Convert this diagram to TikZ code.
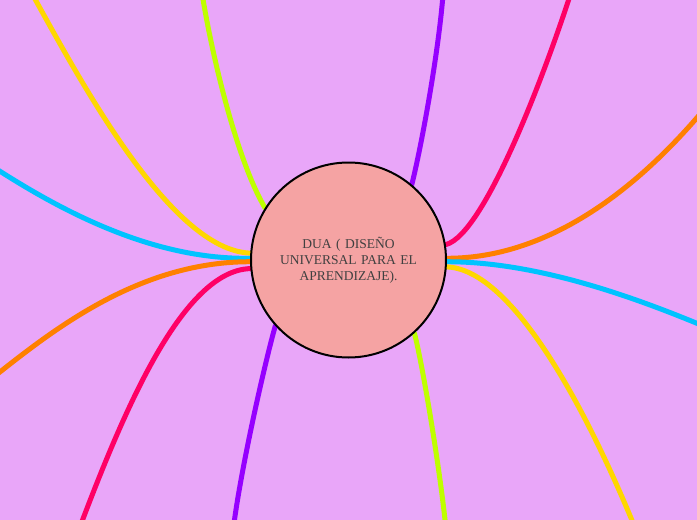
\documentclass[tikz,border=0pt]{standalone}
\usepackage{fontspec}
\setmainfont{Liberation Serif}
\usetikzlibrary{backgrounds}
\newlength{\du}
\setlength{\du}{10\unitlength}
\tikzset{branch/.style={draw=dialinecolor, line width=0.5\du, line cap=round}}

\begin{document}
\begin{tikzpicture}[even odd rule]
\pgftransformxscale{1.000000}
\pgftransformyscale{-1.000000}
\useasboundingbox (0.000000\du,0.000000\du) rectangle (69.700000\du,52.000000\du);
\definecolor{dialinecolor}{rgb}{0.000000, 0.000000, 0.000000}
\definecolor{diafillcolor}{rgb}{0.960784, 0.639216, 0.639216}
\definecolor{diatextcolor}{rgb}{0.250000, 0.250000, 0.250000}
\node[circle, draw=dialinecolor, fill=diafillcolor, line width=0.2\du, minimum size=19.5\du, inner sep=0pt, text width=15\du, align=center, text=diatextcolor, font=\fontsize{13.5}{16}\selectfont] (dua) at (34.850000\du,26.000000\du) {DUA ( DISEÑO\\UNIVERSAL PARA EL\\APRENDIZAJE).};
% free ends of the branches
\coordinate (yTL) at (3.000000\du,-1.000000\du);
\coordinate (cTL) at (-4.000000\du,14.500000\du);
\coordinate (oBL) at (-5.000000\du,41.000000\du);
\coordinate (mBL) at (7.500000\du,54.000000\du);
\coordinate (gTL) at (20.000000\du,-2.000000\du);
\coordinate (pBL) at (23.200000\du,54.000000\du);
\coordinate (pTR) at (44.400000\du,-2.000000\du);
\coordinate (mTR) at (57.500000\du,-2.000000\du);
\coordinate (oTR) at (72.000000\du,9.000000\du);
\coordinate (cBR) at (76.000000\du,35.000000\du);
\coordinate (yBR) at (64.000000\du,54.000000\du);
\coordinate (gBR) at (44.700000\du,54.000000\du);
\begin{scope}[on background layer]
\clip (0.000000\du,0.000000\du) rectangle (69.700000\du,52.000000\du);
{\definecolor{diafillcolor}{rgb}{0.913725, 0.650980, 0.976471}
\fill[diafillcolor] (0.000000\du,0.000000\du) rectangle (69.700000\du,52.000000\du);
}
% left side
{\definecolor{dialinecolor}{rgb}{1.000000, 0.843137, 0.000000}
\draw[branch] (dua.176) .. controls +(-8.0\du,-0.3\du) and +(5.0\du,9.0\du) .. (yTL);
}
{\definecolor{dialinecolor}{rgb}{0.000000, 0.764706, 1.000000}
\draw[branch] (dua.179) .. controls +(-12.0\du,0.2\du) and +(6.0\du,4.0\du) .. (cTL);
}
{\definecolor{dialinecolor}{rgb}{1.000000, 0.501961, 0.000000}
\draw[branch] (dua.181) .. controls +(-14.0\du,0.0\du) and +(6.0\du,-4.0\du) .. (oBL);
}
{\definecolor{dialinecolor}{rgb}{1.000000, 0.000000, 0.400000}
\draw[branch] (dua.185) .. controls +(-7.0\du,0.2\du) and +(4.5\du,-12.0\du) .. (mBL);
}
{\definecolor{dialinecolor}{rgb}{0.749020, 1.000000, 0.000000}
\draw[branch] (dua.148) .. controls +(-2.8\du,-4.7\du) and +(1.0\du,7.0\du) .. (gTL);
}
{\definecolor{dialinecolor}{rgb}{0.588235, 0.000000, 1.000000}
\draw[branch] (dua.222) .. controls +(-1.0\du,3.5\du) and +(0.6\du,-6.0\du) .. (pBL);
}
% right side
{\definecolor{dialinecolor}{rgb}{0.588235, 0.000000, 1.000000}
\draw[branch] (dua.50) .. controls +(1.0\du,-4.0\du) and +(-0.3\du,6.0\du) .. (pTR);
}
{\definecolor{dialinecolor}{rgb}{1.000000, 0.000000, 0.400000}
\draw[branch] (dua.9) .. controls +(4.0\du,-1.0\du) and +(-2.5\du,8.0\du) .. (mTR);
}
{\definecolor{dialinecolor}{rgb}{1.000000, 0.501961, 0.000000}
\draw[branch] (dua.1) .. controls +(13.3\du,0.0\du) and +(-4.0\du,5.0\du) .. (oTR);
}
{\definecolor{dialinecolor}{rgb}{0.000000, 0.764706, 1.000000}
\draw[branch] (dua.359) .. controls +(12.0\du,0.0\du) and +(-6.0\du,-2.5\du) .. (cBR);
}
{\definecolor{dialinecolor}{rgb}{1.000000, 0.843137, 0.000000}
\draw[branch] (dua.356) .. controls +(7.3\du,0.3\du) and +(-4.0\du,-10.0\du) .. (yBR);
}
{\definecolor{dialinecolor}{rgb}{0.749020, 1.000000, 0.000000}
\draw[branch] (dua.312) .. controls +(0.8\du,3.0\du) and +(-0.5\du,-6.0\du) .. (gBR);
}
\end{scope}
\end{tikzpicture}
\end{document}
